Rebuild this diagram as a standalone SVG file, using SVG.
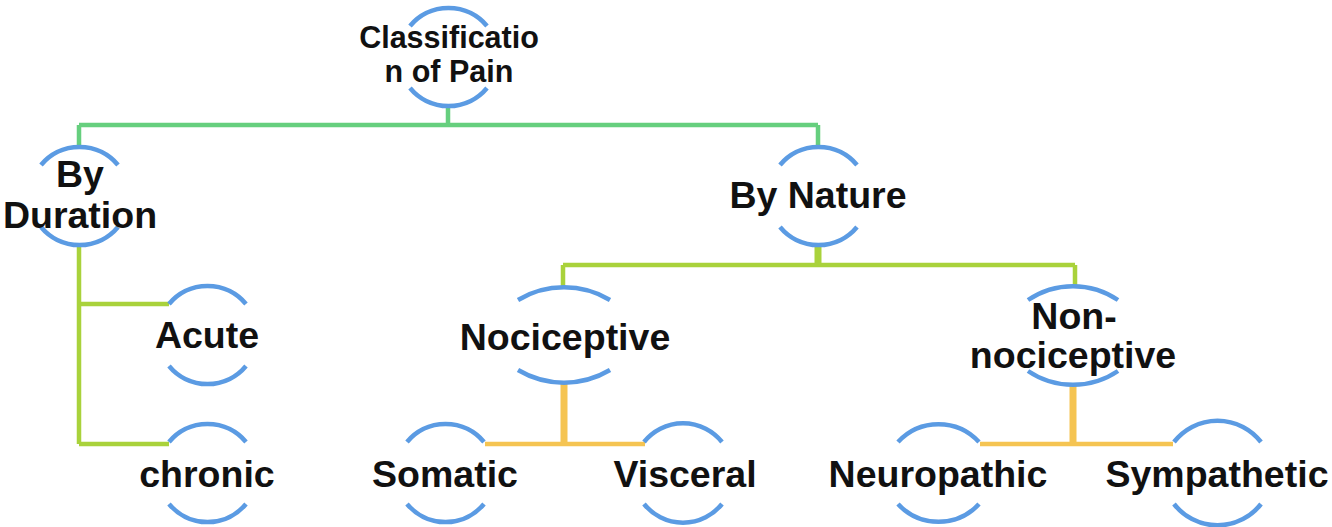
<svg xmlns="http://www.w3.org/2000/svg" width="1332" height="527" viewBox="0 0 1332 527">
<style>
.arc{fill:none;stroke:#5B9BE3;stroke-width:4.5}
.g{fill:none;stroke:#66CF7E;stroke-width:4.5}
.l{fill:none;stroke:#A9D23B;stroke-width:4.5}
.y{fill:none;stroke:#F5C452;stroke-width:4.5}
.t{font-family:"Liberation Sans",Arial,sans-serif;font-weight:bold;font-size:37.5px;fill:#111;text-anchor:middle}
.s{font-size:30.5px}
</style>
<rect width="1332" height="527" fill="#fff"/>
<g id="connectors">
<path class="g" d="M448 106 V125 M79 125 H818 M79 125 V147 M818 125 V146"/>
<path class="l" d="M79 245 V444 M79 304 H169 M79 444 H169"/>
<path class="l" d="M563 265 H1075 M563 265 V288 M1075 265 V286"/>
<path class="l" d="M818 246 V265" style="stroke-width:7"/>
<path class="y" d="M485 444 H645 M980 444 H1173"/>
<path class="y" d="M564 381 V444 M1073 385 V444" style="stroke-width:7"/>
</g>
<g id="n-root">
<path class="arc" d="M410 26 A50 50 0 0 1 487 26 M410 88 A50 50 0 0 0 487 88"/>
<text class="t s" x="449" y="48">Classificatio</text>
<text class="t s" x="449" y="82">n of Pain</text>
</g>
<g id="n-duration">
<path class="arc" d="M41 165 A50 50 0 0 1 118 165 M41 227 A50 50 0 0 0 118 227"/>
<text class="t" x="80" y="187">By</text>
<text class="t" x="80" y="228">Duration</text>
</g>
<g id="n-nature">
<path class="arc" d="M780 165 A50 50 0 0 1 857 165 M780 227 A50 50 0 0 0 857 227"/>
<text class="t" x="818" y="208">By Nature</text>
</g>
<g id="n-acute">
<path class="arc" d="M169 304 A50 50 0 0 1 246 304 M169 366 A50 50 0 0 0 246 366"/>
<text class="t" x="207" y="348">Acute</text>
</g>
<g id="n-chronic">
<path class="arc" d="M169 442 A50 50 0 0 1 246 442 M169 504 A50 50 0 0 0 246 504"/>
<text class="t" x="207" y="487">chronic</text>
</g>
<g id="n-nociceptive">
<path class="arc" d="M518 300 A90 90 0 0 1 610 300 M518 370 A90 90 0 0 0 610 370"/>
<text class="t" x="565" y="350">Nociceptive</text>
</g>
<g id="n-nonnociceptive">
<path class="arc" d="M1028 300 A80 80 0 0 1 1118 300 M1028 371 A80 80 0 0 0 1118 371"/>
<text class="t" x="1074" y="329">Non-</text>
<text class="t" x="1073" y="368">nociceptive</text>
</g>
<g id="n-somatic">
<path class="arc" d="M407 442 A50 50 0 0 1 484 442 M407 504 A50 50 0 0 0 484 504"/>
<text class="t" x="445" y="487">Somatic</text>
</g>
<g id="n-visceral">
<path class="arc" d="M644 442 A50 50 0 0 1 722 442 M644 504 A50 50 0 0 0 722 504"/>
<text class="t" x="685" y="487">Visceral</text>
</g>
<g id="n-neuropathic">
<path class="arc" d="M898 442 A55 55 0 0 1 979 442 M898 504 A55 55 0 0 0 979 504"/>
<text class="t" x="938" y="487">Neuropathic</text>
</g>
<g id="n-sympathetic">
<path class="arc" d="M1174 442 A55 55 0 0 1 1261 442 M1174 504 A55 55 0 0 0 1261 504"/>
<text class="t" x="1217" y="487">Sympathetic</text>
</g>
</svg>
